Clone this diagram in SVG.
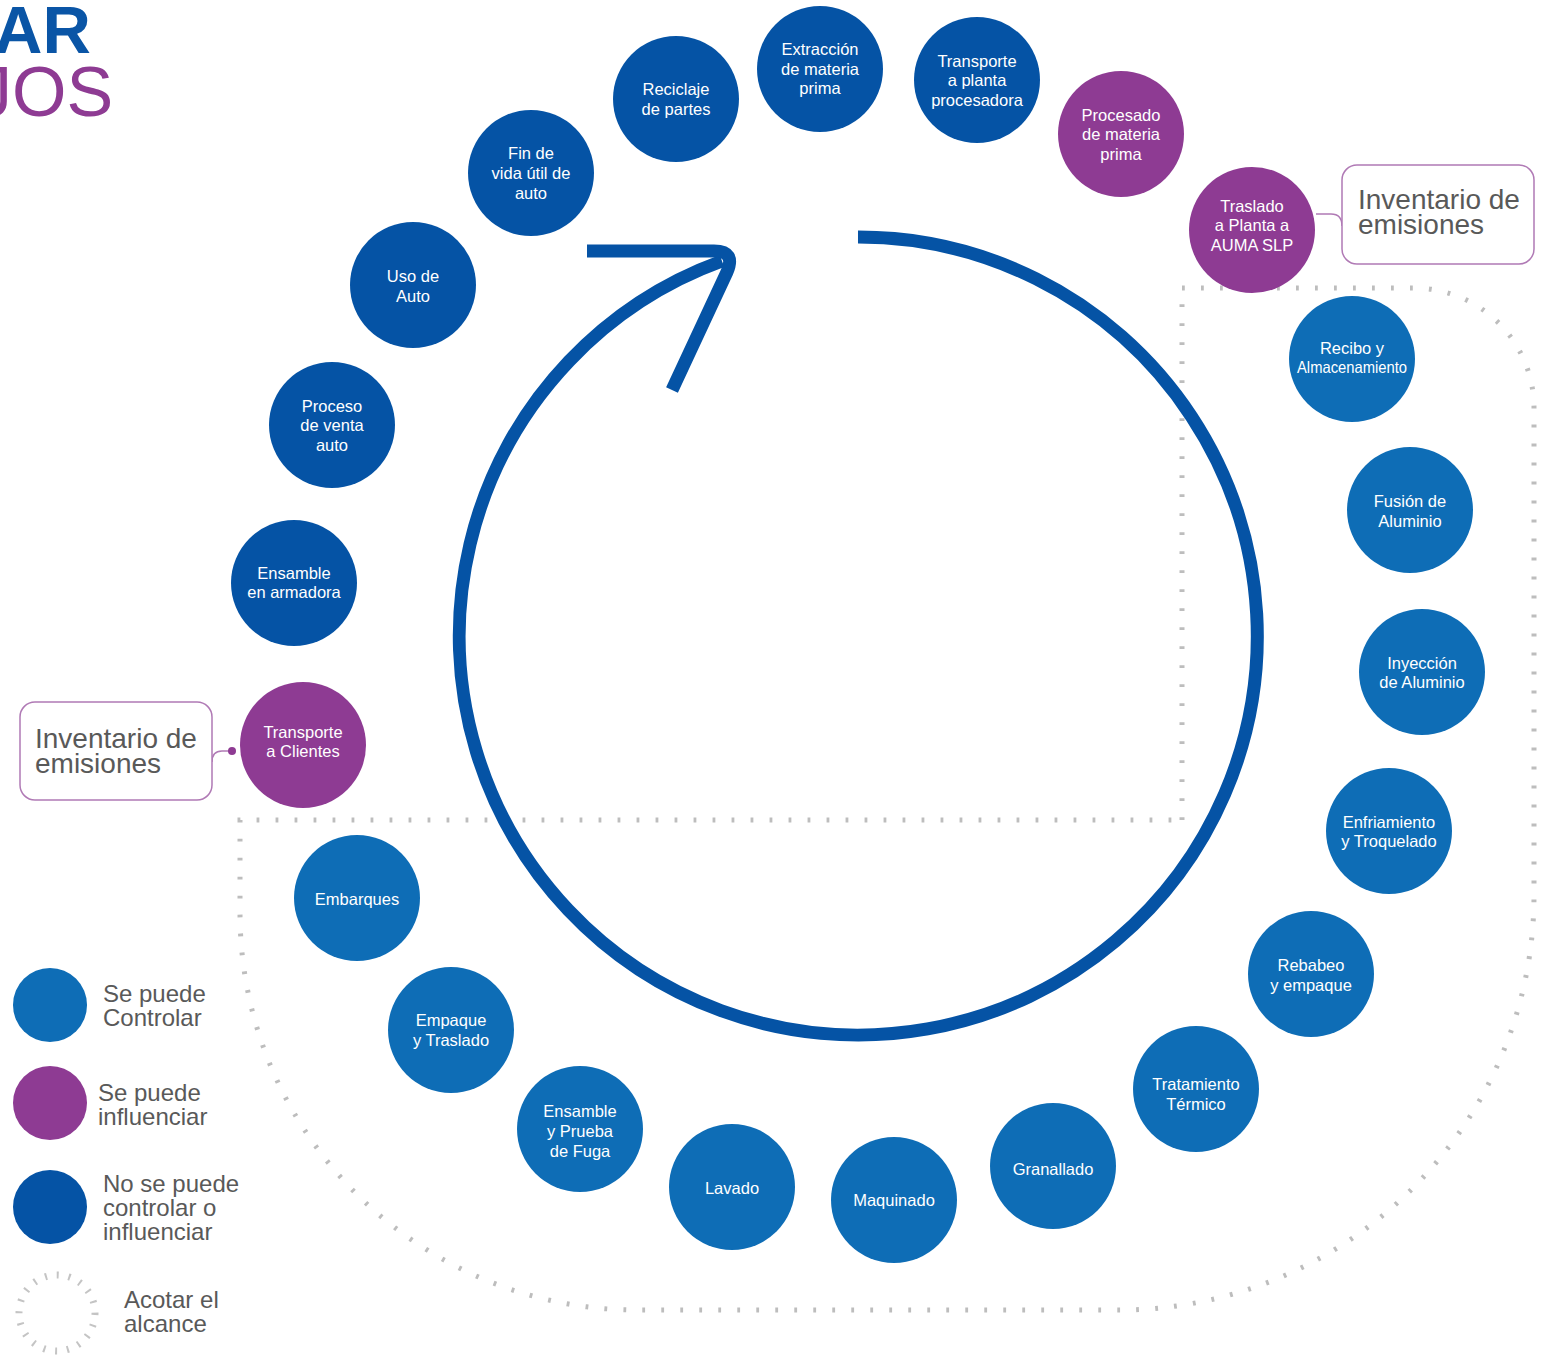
<svg xmlns="http://www.w3.org/2000/svg" width="1552" height="1355" viewBox="0 0 1552 1355">
<style>
.n text{font-family:"Liberation Sans",Arial,sans-serif;font-size:16.5px;fill:#ffffff;text-anchor:middle}
.dark{fill:#0553a5}
.med{fill:#0e6db6}
.pur{fill:#8e3b93}
.leg{font-family:"Liberation Sans",Arial,sans-serif;font-size:24px;fill:#595959}
.inv{font-family:"Liberation Sans",Arial,sans-serif;font-size:28px;fill:#595959}
.box{fill:#ffffff;stroke:#b07ab5;stroke-width:1.5}
.scope{fill:none;stroke:#bdbdbd;stroke-width:5;stroke-dasharray:2.8 16.2}
.flow{fill:none;stroke:#0553a5;stroke-width:13}
</style>
<rect width="1552" height="1355" fill="#ffffff"/>
<g id="title">
<text x="-6" y="53" font-family="'Liberation Sans',Arial,sans-serif" font-size="67" font-weight="bold" fill="#0a55a6">AR</text>
<text x="-23" y="116" font-family="'Liberation Sans',Arial,sans-serif" font-size="70" fill="#8e3b93">JOS</text>
</g>
<g id="scope">
<path class="scope" d="M1182,820 L1182,288 L1414,288 A120,120 0 0 1 1534,408 L1534,895 A415,415 0 0 1 1119,1310 L637,1310 A397,397 0 0 1 240,913 L240,820 Z"/>
</g>
<g id="connectors">
<path class="flow" d="M858,237 A399,399 0 1 1 722,261"/>
<path class="flow" d="M587,251 L714,251 Q736,251 727,272 L672,390" stroke-linejoin="round"/>
<path d="M1316,214 H1331 Q1342,214 1342,226" fill="none" stroke="#b07ab5" stroke-width="1.5"/>
<path d="M232,751 H222 Q212,751 212,762" fill="none" stroke="#b07ab5" stroke-width="1.5"/>
<circle cx="232" cy="751" r="4" fill="#8e3b93"/>
</g>
<g id="inventario-1">
<rect class="box" x="1342" y="165" width="192" height="99" rx="15"/>
<text class="inv" x="1358" y="209">Inventario de</text>
<text class="inv" x="1358" y="234">emisiones</text>
</g>
<g id="inventario-2">
<rect class="box" x="20" y="702" width="192" height="98" rx="15"/>
<text class="inv" x="35" y="748">Inventario de</text>
<text class="inv" x="35" y="773">emisiones</text>
</g>
<g id="n-extraccion" class="n"><circle class="dark" cx="820" cy="69" r="63"/><text x="820" y="55">Extracción</text><text x="820" y="75">de materia</text><text x="820" y="94">prima</text></g>
<g id="n-transporte-planta" class="n"><circle class="dark" cx="977" cy="80" r="63"/><text x="977" y="67">Transporte</text><text x="977" y="86">a planta</text><text x="977" y="106">procesadora</text></g>
<g id="n-reciclaje" class="n"><circle class="dark" cx="676" cy="99" r="63"/><text x="676" y="95">Reciclaje</text><text x="676" y="115">de partes</text></g>
<g id="n-fin-vida" class="n"><circle class="dark" cx="531" cy="173" r="63"/><text x="531" y="159">Fin de</text><text x="531" y="179">vida útil de</text><text x="531" y="199">auto</text></g>
<g id="n-uso" class="n"><circle class="dark" cx="413" cy="285" r="63"/><text x="413" y="282">Uso de</text><text x="413" y="302">Auto</text></g>
<g id="n-venta" class="n"><circle class="dark" cx="332" cy="425" r="63"/><text x="332" y="412">Proceso</text><text x="332" y="431">de venta</text><text x="332" y="451">auto</text></g>
<g id="n-armadora" class="n"><circle class="dark" cx="294" cy="583" r="63"/><text x="294" y="579">Ensamble</text><text x="294" y="598">en armadora</text></g>
<g id="n-procesado" class="n"><circle class="pur" cx="1121" cy="134" r="63"/><text x="1121" y="121">Procesado</text><text x="1121" y="140">de materia</text><text x="1121" y="160">prima</text></g>
<g id="n-traslado-auma" class="n"><circle class="pur" cx="1252" cy="230" r="63"/><text x="1252" y="212">Traslado</text><text x="1252" y="231">a Planta a</text><text x="1252" y="251">AUMA SLP</text></g>
<g id="n-transporte-clientes" class="n"><circle class="pur" cx="303" cy="745" r="63"/><text x="303" y="738">Transporte</text><text x="303" y="757">a Clientes</text></g>
<g id="n-recibo" class="n"><circle class="med" cx="1352" cy="359" r="63"/><text x="1352" y="354">Recibo y</text><text x="1352" y="373" textLength="110" lengthAdjust="spacingAndGlyphs">Almacenamiento</text></g>
<g id="n-fusion" class="n"><circle class="med" cx="1410" cy="510" r="63"/><text x="1410" y="507">Fusión de</text><text x="1410" y="527">Aluminio</text></g>
<g id="n-inyeccion" class="n"><circle class="med" cx="1422" cy="672" r="63"/><text x="1422" y="669">Inyección</text><text x="1422" y="688">de Aluminio</text></g>
<g id="n-enfriamiento" class="n"><circle class="med" cx="1389" cy="831" r="63"/><text x="1389" y="828">Enfriamiento</text><text x="1389" y="847">y Troquelado</text></g>
<g id="n-rebabeo" class="n"><circle class="med" cx="1311" cy="974" r="63"/><text x="1311" y="971">Rebabeo</text><text x="1311" y="991">y empaque</text></g>
<g id="n-tratamiento" class="n"><circle class="med" cx="1196" cy="1089" r="63"/><text x="1196" y="1090">Tratamiento</text><text x="1196" y="1110">Térmico</text></g>
<g id="n-granallado" class="n"><circle class="med" cx="1053" cy="1166" r="63"/><text x="1053" y="1175">Granallado</text></g>
<g id="n-maquinado" class="n"><circle class="med" cx="894" cy="1200" r="63"/><text x="894" y="1206">Maquinado</text></g>
<g id="n-lavado" class="n"><circle class="med" cx="732" cy="1187" r="63"/><text x="732" y="1194">Lavado</text></g>
<g id="n-ensamble-prueba" class="n"><circle class="med" cx="580" cy="1129" r="63"/><text x="580" y="1117">Ensamble</text><text x="580" y="1137">y Prueba</text><text x="580" y="1157">de Fuga</text></g>
<g id="n-empaque" class="n"><circle class="med" cx="451" cy="1030" r="63"/><text x="451" y="1026">Empaque</text><text x="451" y="1046">y Traslado</text></g>
<g id="n-embarques" class="n"><circle class="med" cx="357" cy="898" r="63"/><text x="357" y="905">Embarques</text></g>
<g id="legend">
<circle class="med" cx="50" cy="1005" r="37"/>
<text class="leg" x="103" y="1002">Se puede</text>
<text class="leg" x="103" y="1026">Controlar</text>
<circle class="pur" cx="50" cy="1103" r="37"/>
<text class="leg" x="98" y="1101">Se puede</text>
<text class="leg" x="98" y="1125">influenciar</text>
<circle class="dark" cx="50" cy="1207" r="37"/>
<text class="leg" x="103" y="1192">No se puede</text>
<text class="leg" x="103" y="1216">controlar o</text>
<text class="leg" x="103" y="1240">influenciar</text>
<circle cx="57" cy="1313" r="38" fill="none" stroke="#c4c4c4" stroke-width="7" stroke-dasharray="2 9.9"/>
<text class="leg" x="124" y="1308">Acotar el</text>
<text class="leg" x="124" y="1332">alcance</text>
</g>
</svg>
